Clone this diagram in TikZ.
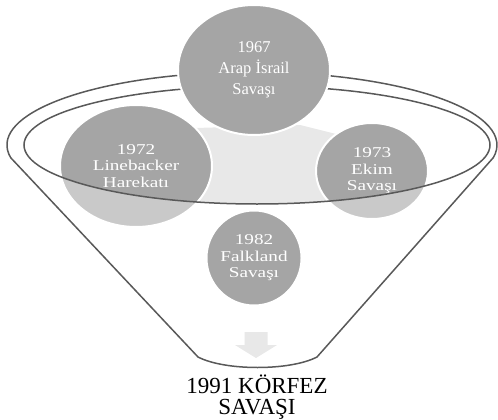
\documentclass[tikz,border=0pt]{standalone}
\usepackage{fontspec}
\setmainfont{Liberation Serif}
\newfontfamily\wideserif[FakeStretch=1.28]{Liberation Serif}
\usepackage{tikz}
\usepackage{color}
\usetikzlibrary{shapes.geometric}
\usetikzlibrary{calc}
\definecolor{bubgray}{HTML}{A5A5A5}
\definecolor{rimgray}{HTML}{595959}
\definecolor{backgray}{HTML}{E8E8E8}

\begin{document}
\begin{tikzpicture}[x=1pt,y=-1pt,
	bub/.style={ellipse, inner sep=0pt, fill=bubgray, draw=white, line width=2pt, text=white, align=center},
	big/.style={bub, font=\fontsize{16.5}{21}\selectfont},
	sml/.style={bub, font=\wideserif\fontsize{15}{16.5}\selectfont},
	rim/.style={draw=rimgray, line width=1.5pt},
	arw/.style={fill=backgray}]
\useasboundingbox (0,0) rectangle (498,420);

% inside of the funnel
\begin{scope}
\clip (257,145) ellipse [x radius=233, y radius=59];
\fill[backgray] (195,128) -- (300,125) -- (336,134) -- (336,210) -- (195,210) -- cycle;
\end{scope}

\node (c1972) at (136,166) [sml, minimum width=152pt, minimum height=122pt] {1972\\Linebacker\\Harekatı};
\node (c1973) at (372,171) [sml, minimum width=112pt, minimum height=96pt] {1973\\Ekim\\Savaşı};

% funnel body and rim
\path[rim, fill=white, fill opacity=.4, even odd rule]
	(10.7,157.7) arc[start angle=170, end angle=370, x radius=245, y radius=73]
	-- (317,357) .. controls (290,371) and (225,371) .. (198,357) -- cycle
	(257,145) ellipse [x radius=233, y radius=59];

\node (c1967) at (254,70) [big, minimum width=152pt, minimum height=130pt] {1967\\Arap İsrail\\Savaşı};
\node (c1982) at (254,258) [sml, minimum width=95pt, minimum height=95pt] {1982\\Falkland\\Savaşı};

\coordinate (tip) at (256,358);
\fill[arw] ($(tip)+(-11.5,-26)$) -- ($(tip)+(11.5,-26)$) -- ($(tip)+(11.5,-13)$) -- ($(tip)+(21,-13)$)
	-- (tip) -- ($(tip)+(-21,-13)$) -- ($(tip)+(-11.5,-13)$) -- cycle;

\node (korfez) at (257,397) [font=\fontsize{23}{21}\selectfont, align=center, inner sep=0pt] {1991 KÖRFEZ\\SAVAŞI};
\end{tikzpicture}
\end{document}
